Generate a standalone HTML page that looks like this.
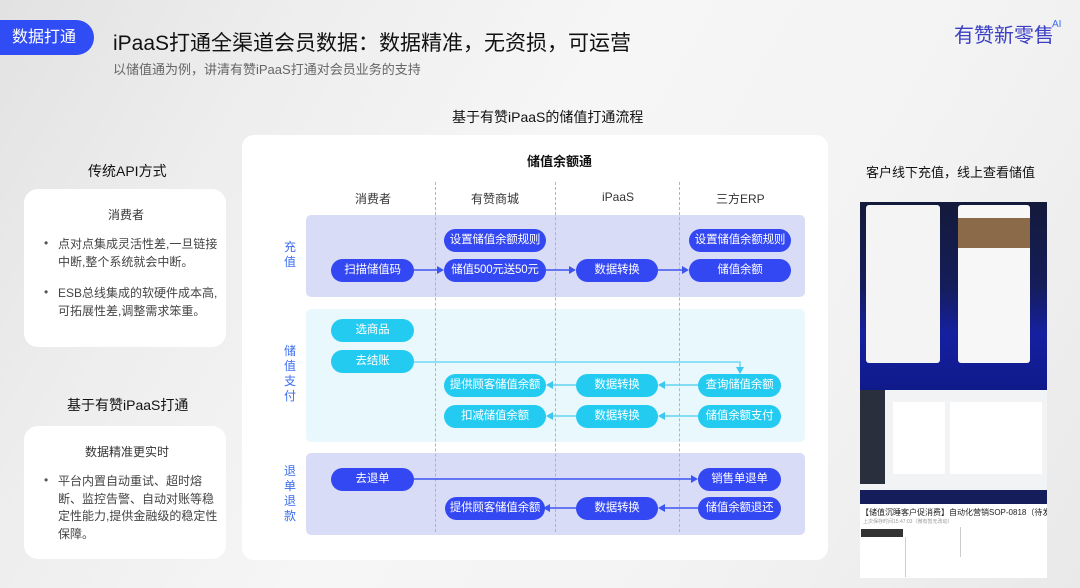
<!DOCTYPE html>
<html><head><meta charset="utf-8"><style>
*{margin:0;padding:0;box-sizing:border-box}
body{width:1080px;height:588px;overflow:hidden;position:relative;font-family:"Liberation Sans","Noto Sans CJK SC",sans-serif;background:linear-gradient(120deg,#e2e2e2 0%,#ededed 20%,#f6f6f6 45%,#f3f3f3 70%,#e9e9e9 100%);color:#222}
.a{position:absolute}
.t{position:absolute;white-space:nowrap}
.pill{position:absolute;height:23px;border-radius:12px;color:#fff;font-size:11.5px;line-height:23px;text-align:center;white-space:nowrap;letter-spacing:-0.2px}
.b{background:#3347f2}
.c{background:#24cbf1}
.card{position:absolute;background:#fff;border-radius:14px}
.li{position:absolute;left:58px;font-size:12px;color:#444;line-height:17.5px;width:160px}
.dot{position:absolute;left:44px;font-size:12px;color:#555}
.dash{position:absolute;top:182px;height:350px;border-left:1px dashed #a9aef0}
.vl{position:absolute;left:284px;width:12px;font-size:12px;line-height:15px;color:#3a6cf0;text-align:center}
</style></head><body>
<div class="a" style="left:0;top:20px;width:94px;height:35px;background:#2f4cf5;border-radius:0 18px 18px 0;color:#fff;font-size:16px;line-height:35px;padding-left:12px">数据打通</div>
<div class="t" style="left:113px;top:27px;font-size:21px;color:#111">iPaaS打通全渠道会员数据：数据精准，无资损，可运营</div>
<div class="t" style="left:113px;top:59px;font-size:13px;color:#666">以储值通为例，讲清有赞iPaaS打通对会员业务的支持</div>
<div class="t" style="left:954px;top:19px;font-size:20px;color:#3a3fc4">有赞新零售</div>
<div class="t" style="left:1052px;top:19px;font-size:10px;color:#3a6cf0">AI</div>
<div class="t" style="left:452px;top:107px;font-size:14px;color:#111">基于有赞iPaaS的储值打通流程</div>

<div class="t" style="left:88px;top:161px;font-size:14px;color:#111">传统API方式</div>
<div class="card" style="left:24px;top:189px;width:202px;height:158px"></div>
<div class="t" style="left:108px;top:206px;font-size:12px;color:#333">消费者</div>
<div class="dot" style="top:236px">•</div><div class="li" style="top:236px">点对点集成灵活性差,一旦链接中断,整个系统就会中断。</div>
<div class="dot" style="top:285px">•</div><div class="li" style="top:285px">ESB总线集成的软硬件成本高,可拓展性差,调整需求笨重。</div>
<div class="t" style="left:67px;top:395px;font-size:14px;color:#111">基于有赞iPaaS打通</div>
<div class="card" style="left:24px;top:426px;width:202px;height:133px"></div>
<div class="t" style="left:85px;top:443px;font-size:12px;color:#333">数据精准更实时</div>
<div class="dot" style="top:473px">•</div><div class="li" style="top:473px">平台内置自动重试、超时熔断、监控告警、自动对账等稳定性能力,提供金融级的稳定性保障。</div>

<div class="card" style="left:242px;top:135px;width:586px;height:425px;border-radius:12px"></div>
<div class="t" style="left:527px;top:151px;font-size:13px;font-weight:bold;color:#111">储值余额通</div>
<div class="t" style="left:355px;top:190px;font-size:12px;color:#333">消费者</div>
<div class="t" style="left:471px;top:190px;font-size:12px;color:#333">有赞商城</div>
<div class="t" style="left:602px;top:190px;font-size:12px;color:#333">iPaaS</div>
<div class="t" style="left:716px;top:190px;font-size:12px;color:#333">三方ERP</div>

<div class="a" style="left:306px;top:215px;width:499px;height:82px;background:#d9dcf7;border-radius:5px"></div>
<div class="a" style="left:306px;top:309px;width:499px;height:133px;background:#e9f8fd;border-radius:5px"></div>
<div class="a" style="left:306px;top:453px;width:499px;height:82px;background:#d9dcf7;border-radius:5px"></div>
<div class="dash" style="left:435px"></div><div class="dash" style="left:555px"></div><div class="dash" style="left:679px"></div>

<div class="vl" style="top:240px">充<br>值</div>
<div class="vl" style="top:344px">储<br>值<br>支<br>付</div>
<div class="vl" style="top:464px">退<br>单<br>退<br>款</div>

<svg class="a" style="left:0;top:0" width="1080" height="588">
<g stroke-width="1.5" fill="none">
<path d="M414 270H438M546 270H570M658 270H683" stroke="#3d55f0"/>
<path d="M414 362H740V368" stroke="#6fd9f4"/>
<path d="M698 385H664M576 385H552M698 416H664M576 416H552" stroke="#5fd3f2"/>
<path d="M414 479H692M698 508H664M576 508H549" stroke="#3d55f0"/>
</g>
<g fill="#3d55f0"><path d="M444 270l-7-4v8zM576 270l-7-4v8zM689 270l-7-4v8zM698 479l-7-4v8zM658 508l7-4v8zM543 508l7-4v8z"/></g>
<g fill="#3cc8f0"><path d="M740 374l-4-7h8zM658 385l7-4v8zM546 385l7-4v8zM658 416l7-4v8zM546 416l7-4v8z"/></g>
</svg>

<div class="pill b" style="left:444px;top:229px;width:102px">设置储值余额规则</div>
<div class="pill b" style="left:689px;top:229px;width:102px">设置储值余额规则</div>
<div class="pill b" style="left:331px;top:259px;width:83px">扫描储值码</div>
<div class="pill b" style="left:444px;top:259px;width:102px">储值500元送50元</div>
<div class="pill b" style="left:576px;top:259px;width:82px">数据转换</div>
<div class="pill b" style="left:689px;top:259px;width:102px">储值余额</div>

<div class="pill c" style="left:331px;top:319px;width:83px">选商品</div>
<div class="pill c" style="left:331px;top:350px;width:83px">去结账</div>
<div class="pill c" style="left:444px;top:374px;width:102px">提供顾客储值余额</div>
<div class="pill c" style="left:576px;top:374px;width:82px">数据转换</div>
<div class="pill c" style="left:698px;top:374px;width:83px">查询储值余额</div>
<div class="pill c" style="left:444px;top:405px;width:102px">扣减储值余额</div>
<div class="pill c" style="left:576px;top:405px;width:82px">数据转换</div>
<div class="pill c" style="left:698px;top:405px;width:83px">储值余额支付</div>

<div class="pill b" style="left:331px;top:468px;width:83px">去退单</div>
<div class="pill b" style="left:698px;top:468px;width:83px">销售单退单</div>
<div class="pill b" style="left:445px;top:497px;width:100px">提供顾客储值余额</div>
<div class="pill b" style="left:576px;top:497px;width:82px">数据转换</div>
<div class="pill b" style="left:698px;top:497px;width:83px">储值余额退还</div>

<div class="t" style="left:866px;top:162px;font-size:13px;color:#111">客户线下充值，线上查看储值</div>
<div class="a" style="left:860px;top:202px;width:187px;height:376px;background:#fff;overflow:hidden">
 <div class="a" style="left:0;top:0;width:187px;height:188px;background:linear-gradient(180deg,#141a3a 0%,#151d5a 45%,#1520a0 70%,#0f1a8a 100%)"></div>
 <div class="a" style="left:6px;top:3px;width:74px;height:158px;background:#f4f4f4;border-radius:3px"></div>
 <div class="a" style="left:98px;top:3px;width:72px;height:158px;background:#f7f7f7;border-radius:3px"></div>
 <div class="a" style="left:98px;top:16px;width:72px;height:30px;background:#8b6a4a"></div>
 <div class="a" style="left:0;top:188px;width:187px;height:100px;background:#f2f3f5"></div>
 <div class="a" style="left:0;top:188px;width:25px;height:94px;background:#2a2f3d"></div>
 <div class="a" style="left:33px;top:200px;width:52px;height:72px;background:#fff"></div>
 <div class="a" style="left:90px;top:200px;width:92px;height:72px;background:#fff"></div>
 <div class="a" style="left:0;top:288px;width:187px;height:14px;background:#151d5a"></div>
 <div class="t" style="left:1px;top:305px;font-size:8px;color:#222">【储值沉睡客户促消费】自动化营销SOP-0818（待发布）</div>
 <div class="t" style="left:3px;top:316px;font-size:5px;color:#999">上次保存时间15:47:03（微有暂无改动）</div>
 <div class="a" style="left:1px;top:327px;width:42px;height:8px;background:#333"></div>
 <div class="a" style="left:45px;top:335px;width:1px;height:40px;background:#ccc"></div>
 <div class="a" style="left:100px;top:325px;width:1px;height:30px;background:#ccc"></div>
</div>
</body></html>
